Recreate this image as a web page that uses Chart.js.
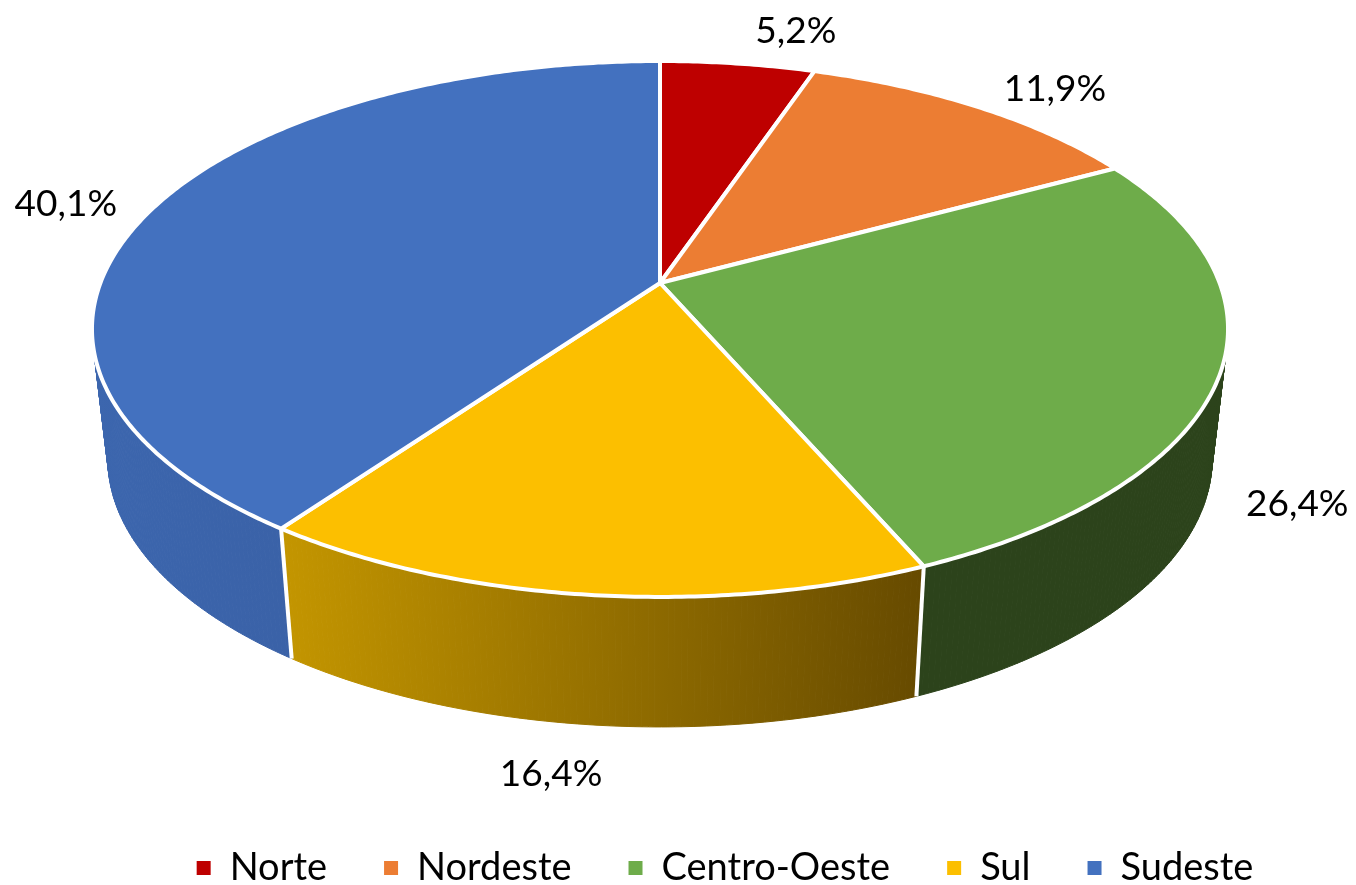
<!DOCTYPE html>
<html>
<head>
<meta charset="utf-8">
<style>
  html, body { margin: 0; padding: 0; background: #fff; overflow: hidden; }
  canvas { display: block; }
</style>
<script src="https://cdn.jsdelivr.net/npm/chart.js@4"></script>
</head>
<body>
<canvas id="canvas" width="1356" height="885"></canvas>
<script>
var regions = ['Norte', 'Nordeste', 'Centro-Oeste', 'Sul', 'Sudeste'];
var shares = [5.2, 11.9, 26.4, 16.4, 40.1];
var topColors = ['#BE0000', '#EC7D33', '#6EAC4A', '#FCBF00', '#4371BF'];
var sideLeft = ['#8A0000', '#B25E25', '#2C431B', '#C49600', '#3C66AE'];
var sideRight = ['#8A0000', '#B25E25', '#2C431B', '#664A00', '#375A9B'];
// label offset from the middle of each slice's rim
var labelNudge = [[58, -32], [76, -18], [77, 131], [-37, 179], [-88, -3]];

// perspective of the tilted disc: unit circle -> screen
var cx = 660, a = 559.6, b = 211.5, c = 283, k = -0.1716;
var depth = 130, bottomScale = 0.972;

function rim(angle, r) {
    var u = Math.cos(angle) * r, v = Math.sin(angle) * r;
    var w = 1 + k * v;
    return { x: cx + a * u / w, y: (b * v + c) / w };
}
function low(p) {
    return { x: cx + (p.x - cx) * bottomScale, y: p.y + depth };
}
function arcPoints(start, end) {
    var n = Math.max(2, Math.ceil((end - start) / 0.01));
    var pts = [];
    for (var i = 0; i <= n; i++) pts.push(rim(start + (end - start) * i / n, 1));
    return pts;
}

var pie3d = {
    id: 'pie3d',
    beforeDatasetsDraw: function (chart) {
        var ctx = chart.ctx;
        var arcs = chart.getDatasetMeta(0).data;
        ctx.save();
        ctx.lineJoin = 'round';

        // side walls, one thin quad per rim step
        arcs.forEach(function (arc, i) {
            var pts = arcPoints(arc.startAngle, arc.endAngle);
            var xs = pts.map(function (p) { return p.x; });
            var g = ctx.createLinearGradient(Math.min.apply(null, xs), 0, Math.max.apply(null, xs), 0);
            g.addColorStop(0, sideLeft[i]);
            g.addColorStop(1, sideRight[i]);
            ctx.fillStyle = g;
            ctx.strokeStyle = g;
            ctx.lineWidth = 1;
            for (var j = 0; j < pts.length - 1; j++) {
                var p = pts[j], q = pts[j + 1], ql = low(q), pl = low(p);
                ctx.beginPath();
                ctx.moveTo(p.x, p.y);
                ctx.lineTo(q.x, q.y);
                ctx.lineTo(ql.x, ql.y);
                ctx.lineTo(pl.x, pl.y);
                ctx.closePath();
                ctx.fill();
                ctx.stroke();
            }
        });
        // white edges between the walls
        ctx.strokeStyle = '#fff';
        ctx.lineWidth = 4;
        arcs.forEach(function (arc) {
            var p = rim(arc.startAngle, 1), q = low(p);
            ctx.beginPath();
            ctx.moveTo(p.x, p.y);
            ctx.lineTo(q.x, q.y);
            ctx.stroke();
        });

        // top of the disc
        arcs.forEach(function (arc, i) {
            var pts = arcPoints(arc.startAngle, arc.endAngle);
            var o = rim(0, 0);
            ctx.beginPath();
            ctx.moveTo(o.x, o.y);
            pts.forEach(function (p) { ctx.lineTo(p.x, p.y); });
            ctx.closePath();
            ctx.fillStyle = topColors[i];
            ctx.fill();
            ctx.stroke();
        });

        // percentage labels
        ctx.fillStyle = '#000';
        ctx.font = '37px Lato';
        ctx.textAlign = 'center';
        ctx.textBaseline = 'middle';
        arcs.forEach(function (arc, i) {
            var p = rim((arc.startAngle + arc.endAngle) / 2, 1);
            var txt = shares[i].toFixed(1).replace('.', ',') + '%';
            ctx.fillText(txt, p.x + labelNudge[i][0], p.y + labelNudge[i][1]);
        });
        ctx.restore();
        return false;
    }
};

var ctx = document.getElementById('canvas').getContext('2d');
var myChart = new Chart(ctx, {
    type: 'pie',
    data: {
        labels: regions,
        datasets: [{
            data: shares,
            backgroundColor: topColors,
            borderWidth: 0
        }]
    },
    plugins: [pie3d],
    options: {
        responsive: false,
        animation: false,
        layout: { padding: { left: 94, bottom: -12 } },
        plugins: {
            tooltip: { enabled: false },
            legend: {
                position: 'bottom',
                labels: {
                    color: '#000',
                    boxWidth: 14,
                    boxHeight: 14,
                    padding: 57,
                    font: { family: 'Lato', size: 38 }
                }
            }
        }
    }
});
</script>
</body>
</html>
